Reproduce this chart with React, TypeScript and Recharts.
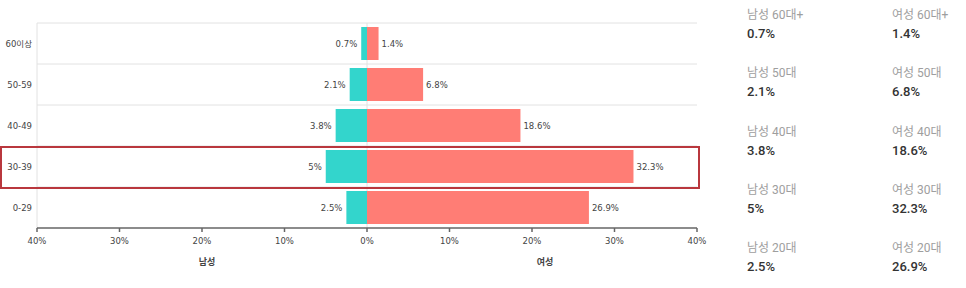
import { BarChart, Bar, XAxis, YAxis, CartesianGrid, LabelList, ReferenceArea } from "recharts";

const ageGroups = ["60이상", "50-59", "40-49", "30-39", "0-29"];
const malePct = [0.7, 2.1, 3.8, 5, 2.5];
const femalePct = [1.4, 6.8, 18.6, 32.3, 26.9];
const panelAges = ["60대+", "50대", "40대", "30대", "20대"];
const xTicks = [-40, -30, -20, -10, 0, 10, 20, 30, 40];
const highlightGroup = "30-39";

const MALE = "#33d5cc";
const FEMALE = "#ff7d75";
const Y_AXIS_W = 37;
const chartFont = "'DejaVu Sans', 'Noto Sans CJK KR', sans-serif";
const panelFont = "Roboto, 'Noto Sans CJK KR', sans-serif";

const data = ageGroups.map((age, i) => ({
  age,
  male: -malePct[i],
  female: femalePct[i],
}));

// value label placed just outside the bar end, works for negative widths too
function barLabel(side: "left" | "right") {
  return (props: any) => {
    const { x, y, width, height, value } = props;
    const left = Math.min(x, x + width);
    const right = Math.max(x, x + width);
    return (
      <text
        x={side === "left" ? left - 4 : right + 3}
        y={y + height / 2}
        textAnchor={side === "left" ? "end" : "start"}
        dominantBaseline="central"
        fontSize={8.5}
        fill="#444"
        fontFamily={chartFont}
      >
        {Math.abs(value)}%
      </text>
    );
  };
}

function HighlightBox(props: any) {
  const { x, y, width, height } = props;
  return (
    <rect
      x={x - Y_AXIS_W + 1}
      y={y + 1}
      width={width + Y_AXIS_W + 1}
      height={height}
      fill="none"
      stroke="#b9373d"
      strokeWidth={2}
    />
  );
}

export default function App() {
  return (
    <div style={{ position: "absolute", left: 0, top: 0, width: 966, height: 288, background: "#fff" }}>
      <BarChart
        width={710}
        height={288}
        data={data}
        layout="vertical"
        stackOffset="sign"
        barSize={33}
        margin={{ top: 23, right: 13, left: 0, bottom: 0 }}
        style={{ fontFamily: chartFont }}
      >
        <CartesianGrid
          stroke="#e2e2e2"
          horizontalCoordinatesGenerator={({ offset }: any) =>
            ageGroups.map((_, i) => offset.top + (i * offset.height) / ageGroups.length)
          }
          verticalCoordinatesGenerator={({ offset }: any) => [offset.left, offset.left + offset.width / 2]}
        />
        <XAxis
          type="number"
          domain={[-40, 40]}
          ticks={xTicks}
          tickFormatter={(v: number) => `${Math.abs(v)}%`}
          height={60}
          stroke="#666"
          strokeWidth={1.5}
          tickSize={4}
          tickMargin={6}
          tick={{ fontSize: 8.5, fill: "#444" }}
        />
        <YAxis
          type="category"
          dataKey="age"
          width={Y_AXIS_W}
          axisLine={false}
          tickLine={false}
          tickSize={0}
          tickMargin={5}
          tick={{ fontSize: 8.5, fill: "#444" }}
        />
        <Bar dataKey="male" stackId="pop" fill={MALE} isAnimationActive={false}>
          <LabelList dataKey="male" content={barLabel("left")} />
        </Bar>
        <Bar dataKey="female" stackId="pop" fill={FEMALE} isAnimationActive={false}>
          <LabelList dataKey="female" content={barLabel("right")} />
        </Bar>
        <ReferenceArea y1={highlightGroup} y2={highlightGroup} ifOverflow="visible" shape={<HighlightBox />} />
      </BarChart>

      <div style={{ position: "absolute", left: 207, top: 255, transform: "translateX(-50%)", fontSize: 9, color: "#444", fontFamily: chartFont, fontWeight: 600 }}>
        남성
      </div>
      <div style={{ position: "absolute", left: 545, top: 255, transform: "translateX(-50%)", fontSize: 9, color: "#444", fontFamily: chartFont, fontWeight: 600 }}>
        여성
      </div>

      {panelAges.map((age, i) => (
        <div key={age}>
          <div style={{ position: "absolute", left: 747, top: 7 + i * 58.3, fontFamily: panelFont }}>
            <div style={{ fontSize: 12, lineHeight: "16px", color: "#9e9e9e" }}>남성 {age}</div>
            <div style={{ fontSize: 13, lineHeight: "18px", marginTop: 2, color: "#333", fontWeight: 500 }}>{malePct[i]}%</div>
          </div>
          <div style={{ position: "absolute", left: 892, top: 7 + i * 58.3, fontFamily: panelFont }}>
            <div style={{ fontSize: 12, lineHeight: "16px", color: "#9e9e9e" }}>여성 {age}</div>
            <div style={{ fontSize: 13, lineHeight: "18px", marginTop: 2, color: "#333", fontWeight: 500 }}>{femalePct[i]}%</div>
          </div>
        </div>
      ))}
    </div>
  );
}
